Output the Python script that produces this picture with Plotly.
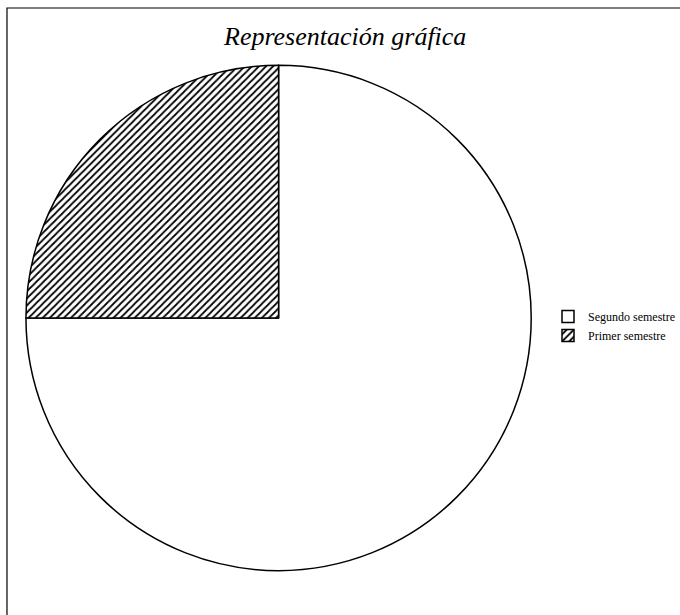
import plotly.graph_objects as go

labels = ["Segundo semestre", "Primer semestre"]
values = [75, 25]
title_text = "Representación gráfica"

W, H = 680, 615

fig = go.Figure(go.Pie(
    labels=labels,
    values=values,
    sort=False,
    direction="clockwise",
    rotation=0,
    textinfo="none",
    hoverinfo="label+percent",
    marker=dict(
        colors=["white", "white"],
        line=dict(color="black", width=1.5),
        pattern=dict(shape=["", "/"], fgcolor="black", bgcolor="white",
                     size=5, solidity=0.35),
    ),
    domain=dict(x=[26 / W, 532 / W], y=[1 - 571 / H, 1 - 65 / H]),
))

fig.add_shape(type="rect", xref="paper", yref="paper",
              x0=7 / W, x1=1.05, y0=-0.05, y1=1 - 8 / H,
              line=dict(color="black", width=1.2))

fig.add_annotation(text=title_text, xref="paper", yref="paper",
                   x=345 / W, y=1 - 36 / H, xanchor="center", yanchor="middle",
                   showarrow=False,
                   font=dict(family="Liberation Serif", size=26, color="black", style="italic"))

fig.update_layout(
    width=W, height=H,
    margin=dict(l=0, r=0, t=0, b=0),
    paper_bgcolor="white", plot_bgcolor="white",
    showlegend=True,
    legend=dict(x=549 / W, y=1 - 302 / H, xanchor="left", yanchor="top",
                font=dict(family="Liberation Serif", size=12, color="black"),
                itemwidth=30, tracegroupgap=0, bgcolor="rgba(0,0,0,0)"),
)

fig.write_html("out.html", config={"displayModeBar": False},
               post_script="document.body.style.margin='0';")
